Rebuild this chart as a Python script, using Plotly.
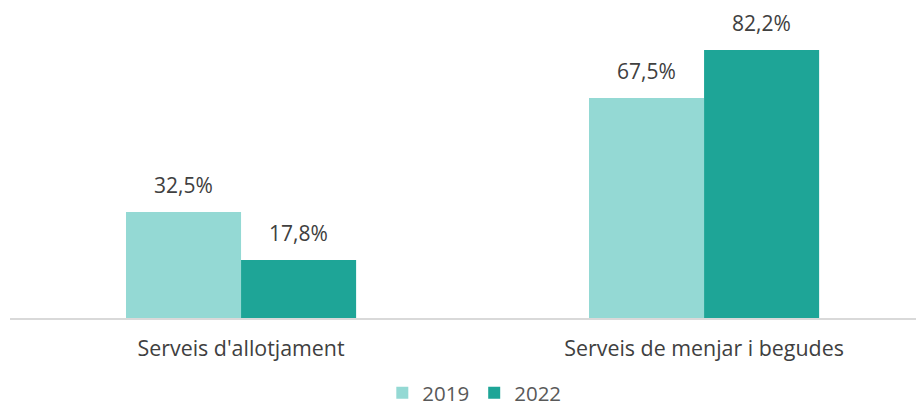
import plotly.graph_objects as go

categories = ["Serveis d'allotjament", "Serveis de menjar i begudes"]
series_names = ["2019", "2022"]
values_2019 = [32.5, 67.5]
values_2022 = [17.8, 82.2]
colors = ["#94D9D4", "#1EA597"]

FONT = "Open Sans"
fig = go.Figure()
x_idx = list(range(len(categories)))
for name, vals, col in zip(series_names, [values_2019, values_2022], colors):
    fig.add_trace(go.Bar(
        x=x_idx, y=vals, name=name, marker=dict(color=col, line=dict(width=0)),
        textposition="none", cliponaxis=False,
    ))

offsets = [-0.124, 0.124]
for vals, off in zip([values_2019, values_2022], offsets):
    for i, v in enumerate(vals):
        fig.add_annotation(x=i + off, y=v, text=f"{v:.1f}%".replace(".", ","),
                           showarrow=False, yanchor="bottom", yshift=11,
                           font=dict(size=21, color="#404040", family=FONT))

# page body has 8px default margin: compensate
fig.update_layout(
    width=924, height=407,
    margin=dict(l=2, r=8, t=2, b=97, autoexpand=False),
    plot_bgcolor="white", paper_bgcolor="white",
    barmode="group", bargap=0.503, bargroupgap=0,
    font=dict(family=FONT, color="#404040", size=21),
    showlegend=True,
    legend=dict(orientation="h", x=0.508, xanchor="center", y=-0.243, yanchor="middle",
                font=dict(size=20.5, color="#595959", family=FONT), traceorder="normal"),
    xaxis=dict(range=[-0.499, 1.475], tickvals=x_idx, ticktext=categories,
               showgrid=False, zeroline=False, showline=True, linecolor="#D9D9D9",
               linewidth=1.5, ticks="", ticklabelstandoff=11,
               tickfont=dict(size=21.4, color="#404040", family=FONT)),
    yaxis=dict(range=[0, 94.5], visible=False),
)

fig.write_html("out.html")
